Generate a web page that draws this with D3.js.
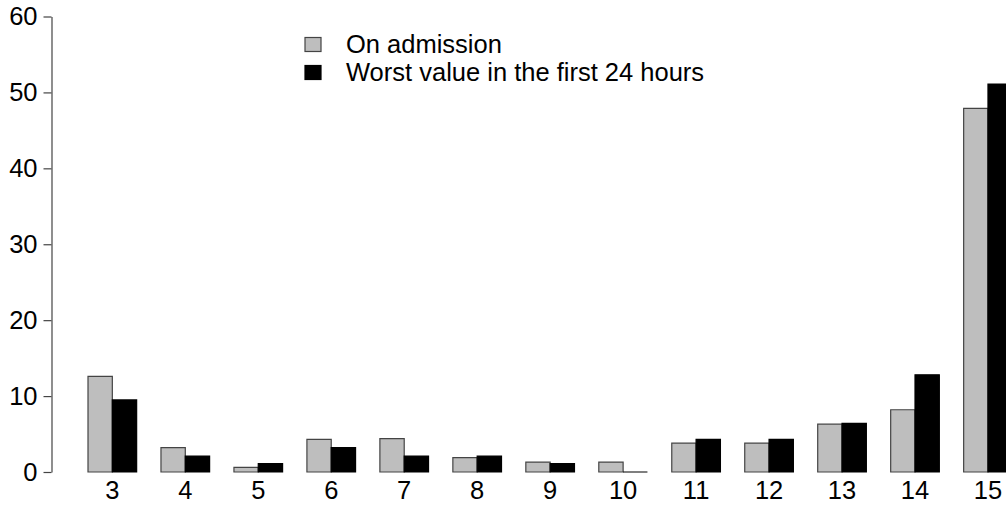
<!DOCTYPE html>
<html>
<head>
<meta charset="utf-8">
<script src="https://cdn.jsdelivr.net/npm/d3@7"></script>
<style>
  html, body { margin: 0; padding: 0; background: #fff; }
  svg { display: block; }
  text { font-family: "Liberation Sans", Arial, sans-serif; fill: #000; }
</style>
</head>
<body>
<svg id="chart" width="1006" height="507"></svg>
<script>
const categories = ["3","4","5","6","7","8","9","10","11","12","13","14","15"];
const seriesNames = ["On admission", "Worst value in the first 24 hours"];
const onAdmission = [12.6, 3.2, 0.6, 4.3, 4.4, 1.9, 1.3, 1.3, 3.8, 3.8, 6.3, 8.2, 47.9];
const worstFirst24h = [9.5, 2.1, 1.1, 3.2, 2.1, 2.1, 1.1, 0, 4.3, 4.3, 6.4, 12.8, 51.1];
const yTicks = [0, 10, 20, 30, 40, 50, 60];
const seriesColors = ["#bebebe", "#000000"];

const svg = d3.select("#chart");
const FS = 25.5;

const y = d3.scaleLinear().domain([0, 60]).range([472, 16.5]);
const x = d3.scaleBand().domain(categories).range([88, 1012.3]).paddingInner(1/3).paddingOuter(0).align(0);
const xs = d3.scaleBand().domain([0, 1]).range([0, x.bandwidth()]).padding(0);

// y axis
const yAxis = d3.axisLeft(y).tickValues(yTicks).tickSize(8).tickPadding(6).tickSizeOuter(0);
const gy = svg.append("g").attr("transform", "translate(51.5,0)").call(yAxis);
gy.select(".domain").attr("stroke", "#444").attr("stroke-width", 1.2);
gy.selectAll(".tick line").attr("stroke", "#444").attr("stroke-width", 1.2);
gy.selectAll(".tick text").style("font-size", FS + "px").attr("fill", "#000")
  .style("font-family", '"Liberation Sans", Arial, sans-serif');

// bars
const data = [onAdmission, worstFirst24h];
data.forEach((vals, si) => {
  svg.append("g").selectAll("path").data(vals).join("path")
    .attr("d", (v, i) => {
      const x0 = x(categories[i]) + xs(si);
      const w = xs.bandwidth();
      const y0 = y(0), y1 = y(v);
      return `M${x0},${y0}V${y1}H${x0 + w}V${y0}Z`;
    })
    .attr("fill", seriesColors[si])
    .attr("stroke", si === 0 ? "#444" : "#000")
    .attr("stroke-width", 1.2);
});

// x labels (no axis line)
const xAxis = d3.axisBottom(x).tickSize(0).tickPadding(0);
const gx = svg.append("g").attr("transform", "translate(0,479)").call(xAxis);
gx.select(".domain").remove();
gx.selectAll(".tick text").style("font-size", FS + "px").attr("fill", "#000")
  .attr("dy", "0.8em")
  .style("font-family", '"Liberation Sans", Arial, sans-serif');

// legend
const legend = svg.append("g");
seriesNames.forEach((name, i) => {
  const cy = 44.5 + i * 28;
  legend.append("rect").attr("x", 305).attr("y", cy - 7).attr("width", 16).attr("height", 14)
    .attr("fill", seriesColors[i]).attr("stroke", i === 0 ? "#444" : "#000").attr("stroke-width", 1.2);
  legend.append("text").attr("x", 346).attr("y", cy).attr("dy", "0.35em")
    .style("font-size", FS + "px").text(name);
});
</script>
</body>
</html>
